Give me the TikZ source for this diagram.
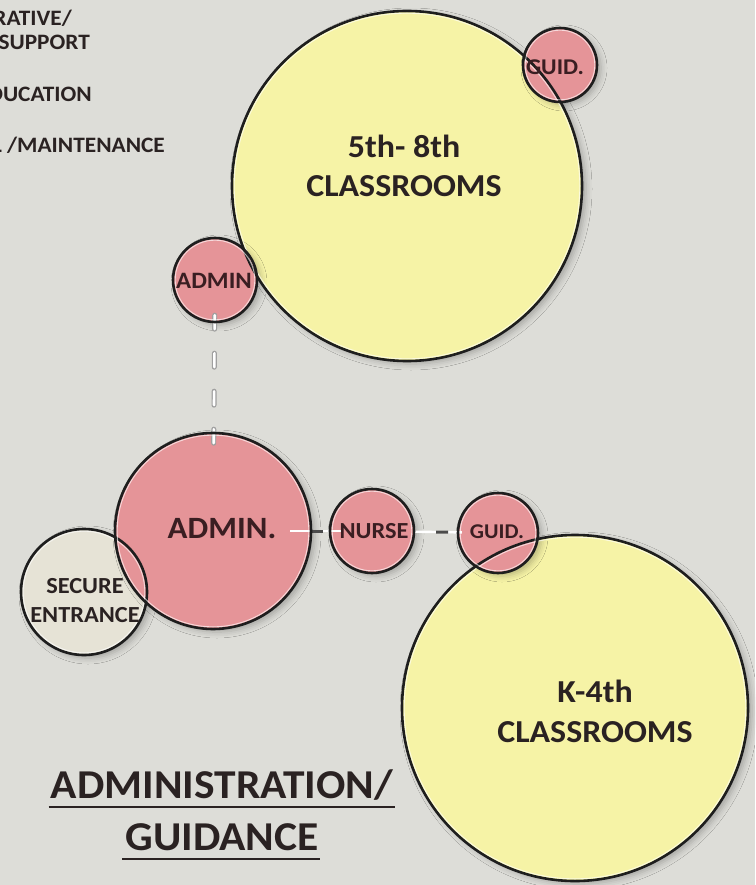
\documentclass[tikz,border=0pt]{standalone}
\usepackage{fontspec}
\setmainfont{Carlito}
\newfontfamily\labfont[FakeStretch=1.06]{Carlito}
\usetikzlibrary{shadows.blur}

\definecolor{paper}{HTML}{DDDDD8}
\definecolor{classfill}{HTML}{F6F3A6}
\definecolor{officefill}{HTML}{E59498}
\definecolor{entryfill}{HTML}{E6E3D6}
\definecolor{ink}{HTML}{2A2222}
\definecolor{inkred}{HTML}{3A1E22}
\definecolor{ringcol}{HTML}{1E1E1E}

\begin{document}
\begin{tikzpicture}[x=1pt,y=-1pt,
  zone/.style={circle, inner sep=0pt, minimum size=#1,
    blur shadow={shadow xshift=4pt, shadow yshift=-3pt,
                 shadow opacity=25, shadow blur radius=6pt}},
  classroom/.style={zone=#1, fill=classfill},
  office/.style={zone=#1, fill=officefill},
  entry/.style={zone=#1, fill=entryfill},
  ring/.style={draw=ringcol, line width=2.6pt},
  ringhi/.style={draw=white, line width=0.9pt, opacity=0.65},
  lab/.style={font=\labfont\bfseries\fontsize{#1}{#1}\selectfont,
    inner sep=0pt, anchor=base, text=ink},
  labred/.style={lab=#1, text=inkred},
  legend/.style={font=\labfont\bfseries\fontsize{22}{22}\selectfont,
    inner sep=0pt, anchor=base east, text=ink},
  uline/.style={draw=ink, line width=2.6pt},
  dashlink/.style={draw=gray!75, line width=5pt, line cap=round,
    dash pattern=on 14pt off 24pt},
  dashlinkw/.style={draw=white, line width=2.6pt, line cap=round,
    dash pattern=on 14pt off 24pt},
  flatlink/.style={draw=white, line width=2.4pt},
  flatmark/.style={draw=ringcol!80, line width=3pt},
]
\fill[paper] (0,0) rectangle (755,885);
\useasboundingbox (0,0) rectangle (755,885);

% ---- legend (left margin) ----
\node[legend] (lg1) at (72,26)  {RATIVE/};
\node[legend] (lg2) at (90,50)  {SUPPORT};
\node[legend] (lg3) at (92,102) {DUCATION};
\node[legend] (lg4) at (165,153) {L /MAINTENANCE};

% ---- zone fills ----
\node[classroom=350pt] (upper) at (407,186) {};
\node[classroom=346pt] (lower) at (575,708) {};
\node[entry=126pt]     (secure) at (84,592) {};
\node[office=196pt]    (admin) at (213,531) {};
\node[office=84pt]     (adminS) at (215,280) {};
\node[office=84pt]     (nurse) at (372,531) {};
\node[office=80pt]     (guidL) at (498,533) {};
\node[office=74pt]     (guidU) at (560,65) {};

% ---- connectors ----
\draw[dashlink, shorten <=-7pt, shorten >=-18pt] (adminS) -- (admin);
\draw[dashlinkw, shorten <=-7pt, shorten >=-18pt] (adminS) -- (admin);

\draw[flatlink, shorten <=-21pt, shorten >=-13pt] (admin) -- (nurse);
\draw[flatmark, shorten <=-21pt, shorten >=-13pt,
      dash pattern=on 0pt off 20pt on 13pt off 200pt] (admin) -- (nurse);
\draw[flatlink, shorten <=-1pt, shorten >=-4pt] (nurse) -- (guidL);
\draw[flatmark, shorten <=-1pt, shorten >=-4pt,
      dash pattern=on 0pt off 23pt on 12pt off 200pt] (nurse) -- (guidL);

% ---- zone outlines, drawn over every fill ----
\foreach \n/\r in {upper/175, lower/173, secure/63, admin/98,
                   adminS/42, nurse/42, guidL/40, guidU/37} {
  \draw[ring] (\n.center) circle[radius=\r pt];
  \draw[ringhi] (\n.center) circle[radius=\r pt - 2.2pt];
}

% ---- zone labels ----
\node[lab=32] (upperT) at (404,158) {5th- 8th};
\node[lab=32] (upperB) at (404,197) {CLASSROOMS};
\node[lab=32] (lowerT) at (595,702) {K-4th};
\node[lab=32] (lowerB) at (595,742) {CLASSROOMS};
\node[labred=31] (adminT) at (222,538) {ADMIN.};
\node[labred=23] (nurseT) at (374,538) {NURSE};
\node[labred=21] (guidLT) at (497,538) {GUID.};
\node[labred=23.5] (adminST) at (214,288) {ADMIN};
\node[labred=22.5] (guidUT) at (555,75) {GUID.};
\node[lab=23] (secT) at (85,593) {SECURE};
\node[lab=23] (secB) at (85,622) {ENTRANCE};

% ---- title ----
\node[lab=41] (title1) at (222,798) {ADMINISTRATION/};
\node[lab=41] (title2) at (222,850) {GUIDANCE};
\draw[uline] ([xshift=-2pt,yshift=-9pt]title1.base west) -- ([xshift=2pt,yshift=-9pt]title1.base east);
\draw[uline] ([xshift=-3pt,yshift=-9pt]title2.base west) -- ([xshift=1pt,yshift=-9pt]title2.base east);
\end{tikzpicture}
\end{document}
